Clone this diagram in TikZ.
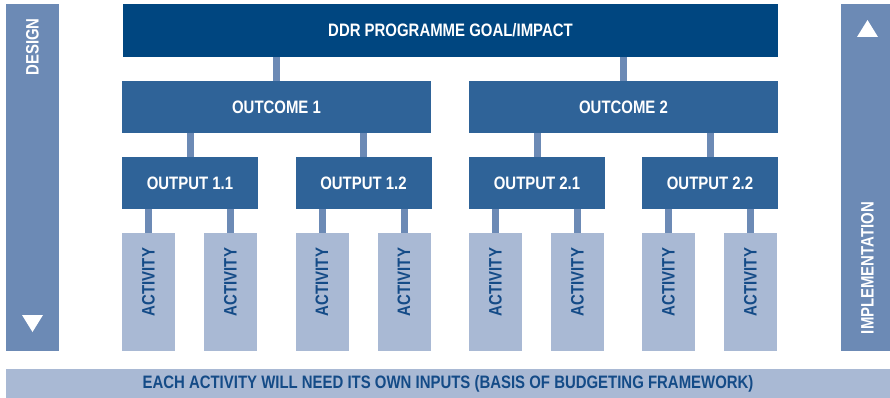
\documentclass[tikz,border=0pt]{standalone}
\usepackage{fontspec}
\setmainfont{Liberation Sans}[FakeStretch=0.83]
\usetikzlibrary{calc}
\usetikzlibrary{positioning}

\definecolor{navy}{RGB}{0,70,128}
\definecolor{midblue}{RGB}{47,99,152}
\definecolor{sideblue}{RGB}{108,138,181}
\definecolor{paleblue}{RGB}{169,185,212}
\definecolor{inkblue}{RGB}{20,75,135}

\begin{document}
\begin{tikzpicture} [x=1pt, y=-1pt,
  box/.style={rectangle, inner sep=0, font=\fontsize{18}{20}\selectfont\bfseries},
  goalbox/.style={box, fill=navy, text=white, minimum width=655, minimum height=53},
  outcomebox/.style={box, fill=midblue, text=white, minimum width=309, minimum height=52},
  outputbox/.style={box, fill=midblue, text=white, minimum width=136, minimum height=52},
  actbox/.style={box, fill=paleblue, text=inkblue, minimum width=53, minimum height=118},
  link/.style={sideblue, line width=7pt}]
\useasboundingbox (0,0) rectangle (890,398);
% side bars and base
\node[box, fill=sideblue, minimum width=53, minimum height=347] (design) at (32.5,177.5) {};
\node[box, fill=sideblue, minimum width=49, minimum height=347] (impl) at (865.5,177.5) {};
\node[box, fill=paleblue, text=inkblue, minimum width=884, minimum height=30] (inputs) at (448,383.5)
  {EACH ACTIVITY WILL NEED ITS OWN INPUTS (BASIS OF BUDGETING FRAMEWORK)};
\node[box, text=white, rotate=90] (designlabel) at (32.5,47) {DESIGN};
\node[box, text=white, rotate=90] (impllabel) at (867.5,268) {IMPLEMENTATION};
\fill[white] (22,315) -- (43,315) -- (32.5,332) -- cycle;
\fill[white] (857,37) -- (878,37) -- (867.5,20) -- cycle;
% hierarchy
\node[goalbox] (goal) at (450.5,30.5) {DDR PROGRAMME GOAL/IMPACT};
\node[outcomebox] (oc1) at (276.5,107) {OUTCOME 1};
\node[outcomebox] (oc2) at (623.5,107) {OUTCOME 2};
\foreach \o in {1,2} {
 \draw[link] (goal.south -| oc\o.north) -- (oc\o.north);
}
\foreach \x/\n/\p/\k in {190/1.1/1/a, 363.5/1.2/1/b, 537/2.1/2/c, 710/2.2/2/d} {
 \node[outputbox] (op\k) at (\x,183) {OUTPUT \n};
 \draw[link] (oc\p.south -| op\k.north) -- (op\k.north);
 \foreach \d [count=\i] in {-41.5,40.5} {
  \node[actbox] (act\k\i) at (\x+\d,292) {\rotatebox{90}{\hspace{20pt}ACTIVITY}};
  \draw[link] (op\k.south -| act\k\i.north) -- (act\k\i.north);
 }
}
\end{tikzpicture}
\end{document}
